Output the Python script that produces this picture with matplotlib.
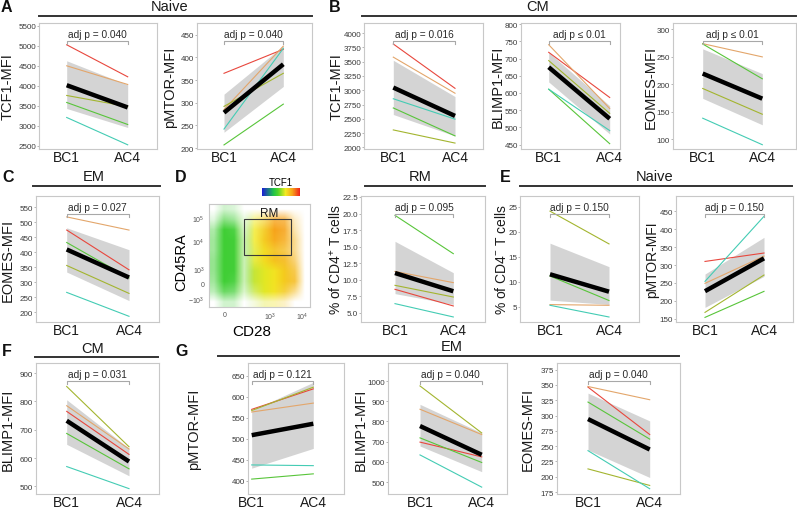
import numpy as np
import matplotlib as mpl
import matplotlib.pyplot as plt
from matplotlib.colors import LinearSegmentedColormap
from matplotlib.patches import Rectangle

plt.rcParams['font.family'] = ['Liberation Sans', 'DejaVu Sans']
plt.rcParams['mathtext.fontset'] = 'custom'
plt.rcParams['mathtext.rm'] = 'Liberation Sans'
plt.rcParams['mathtext.it'] = 'Liberation Sans:italic'
plt.rcParams['mathtext.bf'] = 'Liberation Sans:bold'

# series order in every panel: red, tan, olive, green, turquoise (nan = donor not shown)
SERIES_COLORS = ['#e8473d', '#e3a66b', '#a3b52f', '#58c53a', '#44ccb4']
TIMEPOINTS = ['BC1', 'AC4']

# ---- A: naive
tcf1_naive_bc1 = [5025, 4500, 3758, 3583, 3208]
tcf1_naive_ac4 = [4225, 4033, 3480, 3033, 2525]
tcf1_naive_band = [(3433, 4625), (2958, 4025)]

pmtor_naive_bc1 = [365, 285, 292, 207, 242]
pmtor_naive_ac4 = [418, 425, 365, 297, 420]
pmtor_naive_band = [(235, 319), (336, 426)]

# ---- B: CM
tcf1_cm_bc1 = [3810, 3580, 2305, 2690, 2851]
tcf1_cm_ac4 = [3034, 2948, 2075, 2201, 2494]
tcf1_cm_band = [(2575, 3525), (2200, 2890)]

blimp1_cm_bc1 = [718, 740, 694, 611, 611]
blimp1_cm_ac4 = [587, 555, 541, 453, 491]
blimp1_cm_band = [(632, 718), (481, 563)]

eomes_cm_bc1 = [np.nan, 273.5, 192, 272.9, 138]
eomes_cm_ac4 = [np.nan, 249.4, 145.2, 209.6, 89.8]
eomes_cm_band = [(174, 264), (126, 219)]

# ---- C: EM
eomes_em_c_bc1 = [474.5, 518.3, 356.4, 433, 266.7]
eomes_em_c_ac4 = [342, 474.5, 263.4, 315, 187]
eomes_em_c_band = [(334.5, 482), (239.4, 409)]

# ---- RM frequency
rm_freq_bc1 = [8.57, 11.27, 9.17, 19.73, 6.41]
rm_freq_ac4 = [6.06, 9.58, 7.41, 13.95, 4.40]
rm_freq_band = [(7.92, 15.81), (6.3, 11.08)]

# ---- E: naive
cd4neg_bc1 = [np.nan, 5.48, 24.17, 11.2, 5.34]
cd4neg_ac4 = [np.nan, 5.34, 17.62, 6.3, 3.0]
cd4neg_band = [(6.38, 17.76), (5.5, 13.07)]

pmtor_naive_e_bc1 = [310, 248.8, 167.7, 153.7, 254.3]
pmtor_naive_e_ac4 = [333.5, 325, 272, 226.4, 436]
pmtor_naive_e_band = [(181.7, 274.8), (268.3, 377.3)]

# ---- F: CM
blimp1_cm_f_bc1 = [765, 785, 853, 687, 570]
blimp1_cm_f_ac4 = [613, 632, 640, 562, 492]
blimp1_cm_f_band = [(648.5, 806), (537.4, 634.5)]

# ---- G: EM
pmtor_em_bc1 = [569.8, 563.5, 567, 404, 437.7]
pmtor_em_ac4 = [618.5, 584.7, 622.5, 416.5, 436]
pmtor_em_band = [(430, 567.5), (477, 634)]

blimp1_em_bc1 = [698, 860.4, 975.6, 719, 634.7]
blimp1_em_ac4 = [625, 735.4, 743.5, 597.4, 475.6]
blimp1_em_band = [(678.6, 884.7), (552, 743.5)]

eomes_em_bc1 = [346.4, 347.4, 212.8, 322, 242.6]
eomes_em_ac4 = [269, 325.8, 185.8, 261.5, 180.4]
eomes_em_band = [(243.7, 336.6), (198.8, 291.2)]

# ---- D: flow plot, coarse density / TCF1 grids (rows top -> bottom)
flow_density = [
    [0.00, 0.05, 0.03, 0.00, 0.00, 0.00, 0.00, 0.00, 0.00, 0.00],
    [0.02, 0.30, 0.20, 0.02, 0.20, 0.30, 0.50, 0.45, 0.05, 0.00],
    [0.15, 0.90, 0.70, 0.05, 0.50, 0.70, 0.90, 0.65, 0.10, 0.00],
    [0.20, 1.00, 0.80, 0.10, 0.55, 0.80, 0.80, 0.60, 0.20, 0.00],
    [0.20, 1.00, 0.80, 0.10, 0.50, 0.80, 0.70, 0.50, 0.20, 0.00],
    [0.25, 1.00, 0.80, 0.10, 0.60, 0.90, 0.90, 0.70, 0.30, 0.00],
    [0.25, 1.00, 0.80, 0.10, 0.70, 1.00, 1.00, 0.90, 0.50, 0.00],
    [0.20, 0.90, 0.70, 0.10, 0.70, 1.00, 1.00, 1.00, 0.60, 0.00],
    [0.10, 0.50, 0.40, 0.05, 0.40, 0.80, 0.80, 0.60, 0.20, 0.00],
    [0.00, 0.05, 0.05, 0.00, 0.02, 0.10, 0.10, 0.05, 0.00, 0.00],
]
flow_tcf1 = [
    [0.38, 0.38, 0.38, 0.45, 0.62, 0.70, 0.80, 0.80, 0.75, 0.75],
    [0.38, 0.38, 0.38, 0.45, 0.62, 0.70, 0.80, 0.80, 0.75, 0.75],
    [0.38, 0.38, 0.38, 0.45, 0.62, 0.70, 0.80, 0.80, 0.75, 0.75],
    [0.38, 0.38, 0.38, 0.45, 0.62, 0.70, 0.78, 0.78, 0.75, 0.75],
    [0.38, 0.38, 0.38, 0.45, 0.60, 0.66, 0.72, 0.74, 0.75, 0.75],
    [0.38, 0.38, 0.38, 0.45, 0.60, 0.66, 0.72, 0.74, 0.75, 0.75],
    [0.38, 0.38, 0.38, 0.45, 0.56, 0.60, 0.64, 0.70, 0.74, 0.74],
    [0.38, 0.38, 0.38, 0.45, 0.56, 0.60, 0.64, 0.70, 0.74, 0.74],
    [0.38, 0.38, 0.38, 0.45, 0.56, 0.60, 0.64, 0.70, 0.74, 0.74],
    [0.38, 0.38, 0.38, 0.45, 0.56, 0.60, 0.64, 0.70, 0.74, 0.74],
]
flow_yticklabels = [r'$\mathregular{-10^3}$', '0', r'$\mathregular{10^3}$',
                    r'$\mathregular{10^4}$', r'$\mathregular{10^5}$']
flow_xticklabels = ['0', r'$\mathregular{10^3}$', r'$\mathregular{10^4}$']

W, H = 797, 510
fig = plt.figure(figsize=(W / 100, H / 100), dpi=100)


def box(x0, y0, x1, y1):
    return [x0 / W, 1 - y1 / H, (x1 - x0) / W, (y1 - y0) / H]


def pair_panel(rect, p_bc1, p_ac4, bc1, ac4, band, ylim, yticks, ylabel, label_x,
               ptext, fmt='{:g}', label_size=10.5):
    x0, y0, x1, y1 = rect
    ax = fig.add_axes(box(*rect))
    unit = p_ac4 - p_bc1
    ax.set_xlim((x0 - p_bc1) / unit, (x1 - p_bc1) / unit)
    ax.set_ylim(*ylim)

    lo = [band[0][0], band[1][0]]
    hi = [band[0][1], band[1][1]]
    ax.fill_between([0, 1], lo, hi, color='#d4d4d4', lw=0, zorder=1)
    for b, a, c in zip(bc1, ac4, SERIES_COLORS):
        if np.isnan(b):
            continue
        ax.plot([0, 1], [b, a], color=c, lw=0.8, zorder=2)
    ax.plot([0, 1], [np.nanmean(bc1), np.nanmean(ac4)], color='black', lw=3.2,
            solid_capstyle='butt', zorder=3)

    ax.set_xticks([0, 1])
    ax.set_xticklabels(TIMEPOINTS, fontsize=10, color='#1a1a1a')
    ax.tick_params(axis='x', length=0, pad=1)
    ax.set_yticks(yticks)
    ax.set_yticklabels([fmt.format(v) for v in yticks], fontsize=5.8, color='#3a3a3a')
    ax.tick_params(axis='y', length=1.5, width=0.5, color='#999999', pad=0.6)
    for s in ax.spines.values():
        s.set_color('#c8c8c8')
        s.set_linewidth(0.8)

    ax.set_ylabel(ylabel, fontsize=label_size, color='#1a1a1a', va='center')
    ax.yaxis.set_label_coords((label_x - x0) / (x1 - x0), 0.5)

    # bracket with adjusted p-value
    tr = ax.get_xaxis_transform()
    hpx = y1 - y0
    yb = 1 - 17.5 / hpx
    tick = 3 / hpx
    ax.plot([0, 0, 1, 1], [yb - tick, yb, yb, yb - tick], color='#a8a8a8', lw=0.8,
            transform=tr, clip_on=False, zorder=4)
    ax.text(0.5, yb + 1.2 / hpx, ptext, transform=tr, ha='center', va='bottom',
            fontsize=7.3, color='#2a2a2a')
    return ax


TOP = (24, 150)
MID = (197, 323)
BOT = (364, 495)

pair_panel((39, TOP[0], 157, TOP[1]), 66.7, 127.7, tcf1_naive_bc1, tcf1_naive_ac4,
           tcf1_naive_band, (2420, 5570), np.arange(2500, 5501, 500), 'TCF1-MFI', 7.5,
           'adj p = 0.040')
pair_panel((197, TOP[0], 312, TOP[1]), 224, 283.3, pmtor_naive_bc1, pmtor_naive_ac4,
           pmtor_naive_band, (198, 476), np.arange(200, 451, 50), 'pMTOR-MFI', 170,
           'adj p = 0.040')
pair_panel((364, TOP[0], 483, TOP[1]), 393.3, 455, tcf1_cm_bc1, tcf1_cm_ac4,
           tcf1_cm_band, (1971, 4178), np.arange(2000, 4001, 250), 'TCF1-MFI', 337,
           'adj p = 0.016')
pair_panel((521, TOP[0], 620, TOP[1]), 548.7, 609.7, blimp1_cm_bc1, blimp1_cm_ac4,
           blimp1_cm_band, (437.6, 803), np.arange(450, 801, 50), 'BLIMP1-MFI', 497.5,
           'adj p \u2264 0.01')
pair_panel((673, TOP[0], 796, TOP[1]), 702.7, 762.3, eomes_cm_bc1, eomes_cm_ac4,
           eomes_cm_band, (82, 311), np.arange(100, 301, 50), 'EOMES-MFI', 651,
           'adj p \u2264 0.01')

pair_panel((36, MID[0], 159, MID[1]), 66.7, 129, eomes_em_c_bc1, eomes_em_c_ac4,
           eomes_em_c_band, (168, 588), np.arange(200, 551, 50), 'EOMES-MFI', 7.5,
           'adj p = 0.027')
pair_panel((361, MID[0], 485, MID[1]), 395, 453.3, rm_freq_bc1, rm_freq_ac4,
           rm_freq_band, (3.64, 22.65), np.arange(5, 22.6, 2.5),
           r'% of $\mathregular{CD4^{+}}$ T cells', 335.5, 'adj p = 0.095', fmt='{:.1f}',
           label_size=10)
pair_panel((520, MID[0], 639, MID[1]), 550, 609, cd4neg_bc1, cd4neg_ac4,
           cd4neg_band, (2.0, 27.2), np.arange(5, 26, 5),
           r'% of $\mathregular{CD4^{-}}$ T cells', 501.5, 'adj p = 0.150', label_size=10)
pair_panel((676, MID[0], 793, MID[1]), 705, 764, pmtor_naive_e_bc1, pmtor_naive_e_ac4,
           pmtor_naive_e_band, (140.8, 492.8), np.arange(150, 451, 50), 'pMTOR-MFI', 652,
           'adj p = 0.150', label_size=10)

pair_panel((36, BOT[0], 159, BOT[1]), 66.7, 129, blimp1_cm_f_bc1, blimp1_cm_f_ac4,
           blimp1_cm_f_band, (473, 936), np.arange(500, 901, 100), 'BLIMP1-MFI', 7.5,
           'adj p = 0.031')
pair_panel((248, BOT[0], 344, BOT[1]), 251.7, 313.3, pmtor_em_bc1, pmtor_em_ac4,
           pmtor_em_band, (368.6, 680), np.arange(400, 651, 50), 'pMTOR-MFI', 194,
           'adj p = 0.121')
pair_panel((388, BOT[0], 507, BOT[1]), 420, 481.7, blimp1_em_bc1, blimp1_em_ac4,
           blimp1_em_band, (441.6, 1089), np.arange(500, 1001, 100), 'BLIMP1-MFI', 361,
           'adj p = 0.040')
pair_panel((557, BOT[0], 680, BOT[1]), 588, 649.7, eomes_em_bc1, eomes_em_ac4,
           eomes_em_band, (171.8, 385.8), np.arange(175, 376, 25), 'EOMES-MFI', 528,
           'adj p = 0.040')

# ---- D: flow cytometry dot plot
tcf1_cmap = LinearSegmentedColormap.from_list(
    'tcf1', [(0, '#1b1bd6'), (0.3, '#1fc24a'), (0.42, '#4fd42a'), (0.62, '#f2ea22'),
             (0.8, '#f7a31a'), (1, '#f0201c')])
axd = fig.add_axes(box(209, 205, 310, 308))
rgba = tcf1_cmap(np.array(flow_tcf1))
rgba[..., 3] = np.clip(np.sqrt(np.array(flow_density)) * 1.1, 0, 1)
axd.imshow(rgba, extent=(0, 1, 0, 1), interpolation='bilinear', aspect='auto', zorder=1)
axd.set_xlim(0, 1)
axd.set_ylim(0, 1)
axd.set_yticks([0.075, 0.227, 0.367, 0.643, 0.86])
axd.set_yticklabels(flow_yticklabels, fontsize=5, color='#555555')
axd.set_xticks([0.152, 0.604, 0.918])
axd.set_xticklabels(flow_xticklabels, fontsize=5, color='#555555')
axd.tick_params(length=0, pad=3)
for s in axd.spines.values():
    s.set_color('#c8c8c8')
    s.set_linewidth(0.8)
axd.add_patch(Rectangle((0.35, 0.502), 0.459, 0.355, fill=False, ec='#3a3a3a', lw=0.8,
                        zorder=3))
axd.text(0.594, 0.85, 'RM', ha='center', va='bottom', fontsize=8.5, color='#1a1a1a',
         zorder=4)
axd.set_ylabel('CD45RA', fontsize=10.5, va='center')
axd.yaxis.set_label_coords((181 - 209) / 101, 0.45)
axd.set_xlabel('CD28', fontsize=11, va='center')
axd.xaxis.set_label_coords((252 - 209) / 101, -(332 - 308) / 103)

cax = fig.add_axes(box(262, 189, 300, 197))
cb = mpl.colorbar.ColorbarBase(cax, cmap=tcf1_cmap, orientation='horizontal')
cb.set_ticks([])
cb.outline.set_visible(False)
fig.text(281 / W, 1 - 183 / H, 'TCF1', ha='center', va='center', fontsize=7)

# ---- section headers and panel letters
headers = [('Naive', 170, 7, 39, 312, 17), ('CM', 538, 7, 362, 796, 17),
           ('EM', 94, 177, 33, 160, 186.5), ('RM', 420, 177, 365, 485, 186.5),
           ('Naive', 655, 177, 520, 792, 186.5), ('CM', 93, 349, 35, 158, 357.5),
           ('EM', 452, 347, 218, 679, 357)]
for text, tx, ty, lx0, lx1, ly in headers:
    fig.text(tx / W, 1 - ty / H, text, ha='center', va='center', fontsize=10.5,
             color='#1a1a1a')
    fig.add_artist(plt.Line2D([lx0 / W, lx1 / W], [1 - ly / H, 1 - ly / H],
                              color='#333333', lw=1.4))

letters = [('A', 1, 7), ('B', 329, 7), ('C', 2, 178), ('D', 175, 178), ('E', 500, 178),
           ('F', 2, 351), ('G', 175, 352)]
for text, tx, ty in letters:
    fig.text(tx / W, 1 - ty / H, text, ha='left', va='center', fontsize=11.5,
             fontweight='bold', color='#111111')

fig.savefig('out.png', dpi=100)
